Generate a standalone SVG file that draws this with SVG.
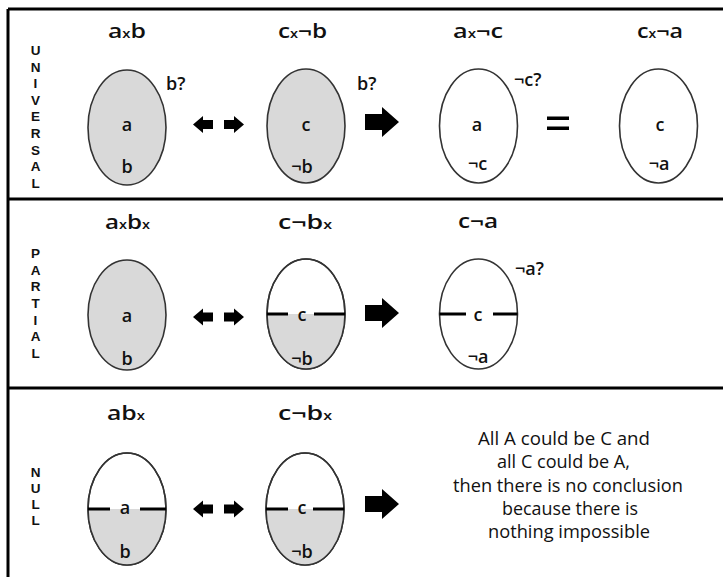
<svg xmlns="http://www.w3.org/2000/svg" width="723" height="577" viewBox="0 0 723 577">
<style>
text{font-family:"Open Sans","Noto Sans","Liberation Sans",sans-serif;fill:#111}
.t{font-size:20px;font-weight:600}
.sub{font-size:12px}
.l{font-size:18px;font-weight:600;text-anchor:middle}
.q{font-size:18px;font-weight:600}
.side{font-family:"Liberation Sans","DejaVu Sans",sans-serif;font-size:13.5px;font-weight:700;text-anchor:middle}
.p{font-size:18px}
.ell{stroke:#333;stroke-width:1.6}
.gray{fill:#d9d9d9}
.white{fill:#fff}
.div{stroke:#000;stroke-width:3}
.frame{stroke:#000;stroke-width:3;fill:none}
</style>
<defs>
<path id="ar" d="M-10,-4.5 H0 V-8.5 L10,0 L0,8.5 V4.5 H-10 Z" fill="#000"/>
<path id="al" d="M10,-4.5 H0 V-8.5 L-10,0 L0,8.5 V4.5 H10 Z" fill="#000"/>
<path id="big" d="M-17,-8 H0 V-15 L17,0 L0,15 V8 H-17 Z" fill="#000"/>
</defs>
<rect width="723" height="577" fill="#fff"/>
<g id="frame">
<line class="frame" x1="8" y1="9" x2="723" y2="9"/>
<line class="frame" x1="8" y1="9" x2="8" y2="577"/>
<line class="frame" x1="8" y1="199" x2="723" y2="199"/>
<line class="frame" x1="8" y1="388" x2="723" y2="388"/>
</g>
<g id="side-labels">
<text class="side"><tspan x="35.5" y="55">U</tspan><tspan x="35.5" y="71.6">N</tspan><tspan x="35.5" y="88.2">I</tspan><tspan x="35.5" y="104.8">V</tspan><tspan x="35.5" y="121.4">E</tspan><tspan x="35.5" y="138">R</tspan><tspan x="35.5" y="154.6">S</tspan><tspan x="35.5" y="171.2">A</tspan><tspan x="35.5" y="188">L</tspan></text>
<text class="side"><tspan x="35.5" y="258">P</tspan><tspan x="35.5" y="274.7">A</tspan><tspan x="35.5" y="291.4">R</tspan><tspan x="35.5" y="308">T</tspan><tspan x="35.5" y="324.7">I</tspan><tspan x="35.5" y="341.4">A</tspan><tspan x="35.5" y="358">L</tspan></text>
<text class="side"><tspan x="35.5" y="477">N</tspan><tspan x="35.5" y="493">U</tspan><tspan x="35.5" y="509">L</tspan><tspan x="35.5" y="525">L</tspan></text>
</g>
<g id="titles">
<text class="t" x="108" y="38" textLength="38" lengthAdjust="spacingAndGlyphs">a<tspan class="sub">x</tspan>b</text>
<text class="t" x="278" y="38" textLength="49" lengthAdjust="spacingAndGlyphs">c<tspan class="sub">x</tspan>¬b</text>
<text class="t" x="453" y="38" textLength="50" lengthAdjust="spacingAndGlyphs">a<tspan class="sub">x</tspan>¬c</text>
<text class="t" x="637" y="38" textLength="46" lengthAdjust="spacingAndGlyphs">c<tspan class="sub">x</tspan>¬a</text>
<text class="t" x="105" y="229" textLength="45" lengthAdjust="spacingAndGlyphs">a<tspan class="sub">x</tspan>b<tspan class="sub">x</tspan></text>
<text class="t" x="278" y="229" textLength="54" lengthAdjust="spacingAndGlyphs">c¬b<tspan class="sub">x</tspan></text>
<text class="t" x="458" y="228" textLength="40" lengthAdjust="spacingAndGlyphs">c¬a</text>
<text class="t" x="107" y="420" textLength="38" lengthAdjust="spacingAndGlyphs">ab<tspan class="sub">x</tspan></text>
<text class="t" x="278" y="420" textLength="54" lengthAdjust="spacingAndGlyphs">c¬b<tspan class="sub">x</tspan></text>
</g>
<g id="u-axb">
<ellipse class="ell gray" cx="127" cy="127.5" rx="39" ry="57.5"/>
<text class="l" x="127" y="131">a</text>
<text class="l" x="127" y="173">b</text>
<text class="q" x="166" y="90">b?</text>
</g>
<g id="u-cxnb">
<ellipse class="ell gray" cx="306" cy="126" rx="39" ry="57"/>
<text class="l" x="306" y="131">c</text>
<text class="l" x="302" y="173">¬b</text>
<text class="q" x="357" y="90">b?</text>
</g>
<g id="u-axnc">
<ellipse class="ell white" cx="478.5" cy="126" rx="39" ry="57"/>
<text class="l" x="477" y="131">a</text>
<text class="l" x="477.5" y="170">¬c</text>
<text class="q" x="514" y="86">¬c?</text>
</g>
<g id="u-cxna">
<ellipse class="ell white" cx="658.5" cy="126" rx="39" ry="57"/>
<text class="l" x="660" y="131">c</text>
<text class="l" x="659" y="170">¬a</text>
</g>
<g id="p-axbx">
<ellipse class="ell gray" cx="127" cy="315" rx="39" ry="55"/>
<text class="l" x="127" y="322">a</text>
<text class="l" x="127" y="365">b</text>
</g>
<g id="p-cnbx">
<ellipse class="ell white" cx="306" cy="314" rx="39" ry="55"/>
<path class="gray" d="M267,314 A39,55 0 0 0 345,314 Z"/>
<ellipse class="ell" fill="none" cx="306" cy="314" rx="39" ry="55"/>
<line class="div" x1="267" y1="314" x2="288" y2="314"/>
<line class="div" x1="314" y1="314" x2="345" y2="314"/>
<text class="l" x="302" y="321">c</text>
<text class="l" x="302" y="365">¬b</text>
</g>
<g id="p-cna">
<ellipse class="ell white" cx="478.5" cy="314" rx="39" ry="55"/>
<line class="div" x1="439.5" y1="314" x2="466" y2="314"/>
<line class="div" x1="493" y1="314" x2="517.5" y2="314"/>
<text class="l" x="478" y="321">c</text>
<text class="l" x="478" y="363">¬a</text>
<text class="q" x="515" y="275">¬a?</text>
</g>
<g id="n-abx">
<ellipse class="ell white" cx="127" cy="509" rx="39" ry="56"/>
<path class="gray" d="M88,509 A39,56 0 0 0 166,509 Z"/>
<ellipse class="ell" fill="none" cx="127" cy="509" rx="39" ry="56"/>
<line class="div" x1="88" y1="509" x2="110" y2="509"/>
<line class="div" x1="140" y1="509" x2="166" y2="509"/>
<text class="l" x="125" y="514">a</text>
<text class="l" x="125" y="558">b</text>
</g>
<g id="n-cnbx">
<ellipse class="ell white" cx="305" cy="509" rx="39" ry="56"/>
<path class="gray" d="M266,509 A39,56 0 0 0 344,509 Z"/>
<ellipse class="ell" fill="none" cx="305" cy="509" rx="39" ry="56"/>
<line class="div" x1="266" y1="509" x2="288" y2="509"/>
<line class="div" x1="313" y1="509" x2="344" y2="509"/>
<text class="l" x="302" y="514">c</text>
<text class="l" x="302" y="558">¬b</text>
</g>
<g id="n-text">
<text class="p" x="478" y="445" textLength="172" lengthAdjust="spacingAndGlyphs">All A could be C and</text>
<text class="p" x="497" y="468" textLength="133" lengthAdjust="spacingAndGlyphs">all C could be A,</text>
<text class="p" x="453" y="492" textLength="230" lengthAdjust="spacingAndGlyphs">then there is no conclusion</text>
<text class="p" x="502" y="515" textLength="136" lengthAdjust="spacingAndGlyphs">because there is</text>
<text class="p" x="488" y="538" textLength="162" lengthAdjust="spacingAndGlyphs">nothing impossible</text>
</g>
<g id="connectors">
<use href="#al" x="203" y="124.5"/>
<use href="#ar" x="234" y="124.5"/>
<use href="#big" x="382" y="122"/>
<rect x="547" y="116.5" width="22" height="3.5" fill="#000"/>
<rect x="547" y="126.5" width="22" height="3.5" fill="#000"/>
<use href="#al" x="203" y="317"/>
<use href="#ar" x="234" y="317"/>
<use href="#big" x="382" y="313"/>
<use href="#al" x="203" y="509"/>
<use href="#ar" x="234" y="509"/>
<use href="#big" x="382" y="504"/>
</g>
</svg>
